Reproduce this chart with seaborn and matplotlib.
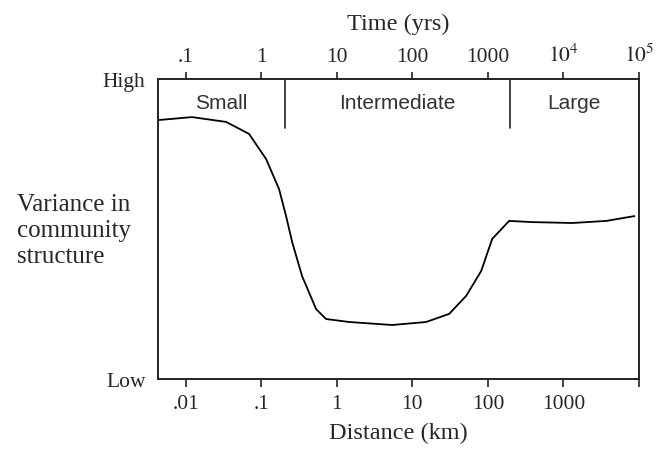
import numpy as np
import pandas as pd
import matplotlib
matplotlib.use("Agg")
import matplotlib.pyplot as plt
import seaborn as sns

# ---- data ----
distance_km = [0.0043, 0.0121, 0.0342, 0.0689, 0.116, 0.172, 0.213, 0.256, 0.347,
               0.532, 0.721, 1.46, 5.4, 15.2, 30.7, 51.5, 81.5, 114, 191, 386,
               1309, 3698, 8690]
variance = [0.863, 0.873, 0.857, 0.817, 0.733, 0.633, 0.543, 0.457, 0.343,
            0.233, 0.200, 0.190, 0.180, 0.190, 0.217, 0.277, 0.360, 0.467,
            0.527, 0.523, 0.520, 0.527, 0.543]

bottom_tick_values = [0.01, 0.1, 1, 10, 100, 1000, 10000]
bottom_tick_labels = [".01", ".1", "1", "10", "100", "1000", ""]
top_tick_values = [0.01, 0.1, 1, 10, 100, 1000, 10000]   # distance positions
top_tick_labels = [".1", "1", "10", "100", "1000", r"$10^4$", r"$10^5$"]

scale_names = ["Small", "Intermediate", "Large"]
scale_label_x = [0.0296, 6.3, 1380]
scale_dividers = [0.207, 198]

df = pd.DataFrame({"distance": distance_km, "variance": variance})

sns.set_theme(style="white")
plt.rcParams["font.family"] = ["Liberation Serif", "DejaVu Serif"]
plt.rcParams["mathtext.fontset"] = "stix"

fig = plt.figure(figsize=(6.65, 4.52), dpi=100)
ax = fig.add_axes([158 / 665, 1 - 380 / 452, (639 - 158) / 665, 300 / 452])

sns.lineplot(data=df, x="distance", y="variance", ax=ax, color="black",
             linewidth=1.3, sort=False, estimator=None)
ax.set_xscale("log")
ax.set_xlim(10 ** -2.367, 10 ** 4.0)
ax.set_ylim(0, 1)

for s in ax.spines.values():
    s.set_color("#222222")
    s.set_linewidth(1.2)

ax.set_xticks(bottom_tick_values)
ax.set_xticklabels(bottom_tick_labels)
ax.xaxis.set_minor_locator(matplotlib.ticker.NullLocator())
ax.tick_params(axis="x", which="major", direction="out", length=6, width=1.2,
               color="#222222", labelsize=15.5, pad=5, bottom=True)
ax.set_yticks([0, 1])
ax.set_yticklabels(["Low", "High"])
ax.tick_params(axis="y", length=0, labelsize=15.5, pad=9)

ax.set_xlabel("Distance (km)", fontsize=17.5, labelpad=6)
ax.set_ylabel("")

ax2 = ax.twiny()
ax2.set_xscale("log")
ax2.set_xlim(ax.get_xlim())
ax2.set_xticks(top_tick_values)
ax2.set_xticklabels(top_tick_labels)
ax2.xaxis.set_minor_locator(matplotlib.ticker.NullLocator())
ax2.tick_params(axis="x", which="major", direction="out", length=5, width=1.2,
                color="#222222", labelsize=15.5, pad=4, top=True)
ax2.set_xlabel("Time (yrs)", fontsize=17.5, labelpad=11)
for s in ax2.spines.values():
    s.set_color("#222222")
    s.set_linewidth(1.2)

for xd in scale_dividers:
    ax.plot([xd, xd], [0.837, 1.0], color="#222222", linewidth=1.2)
for name, xl in zip(scale_names, scale_label_x):
    ax.text(xl, 0.923, name, ha="center", va="center", fontsize=15,
            color="#333333", family=["Liberation Sans", "DejaVu Sans"])

fig.text(17 / 665, 1 - 231 / 452, "Variance in\ncommunity\nstructure",
         ha="left", va="center", fontsize=18, linespacing=1.22)

fig.savefig("out.png", dpi=100)
